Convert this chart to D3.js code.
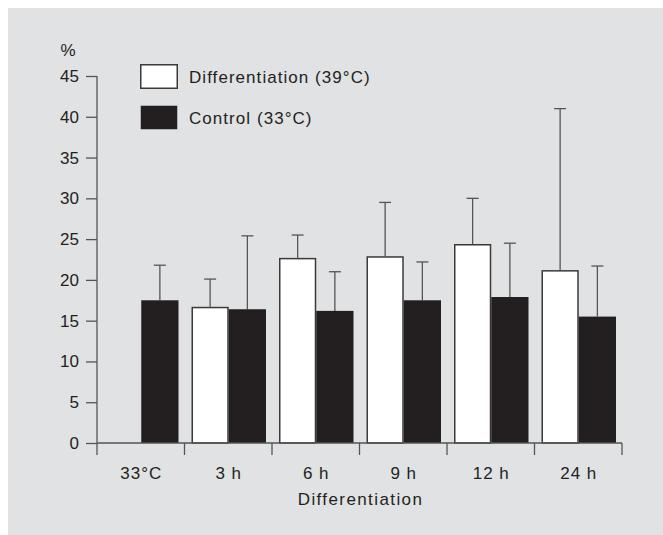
<!DOCTYPE html>
<html lang="en">
<head>
    <meta charset="UTF-8">
    <title>Differentiation bars</title>
    <style>
        body { margin: 0; background: #fff; }
        text { font-family: "Liberation Sans", Arial, sans-serif; fill: #231f20; }
    </style>
    <script src="https://d3js.org/d3.v7.min.js"></script>
</head>
<body>
    <svg width="663" height="535"></svg>
    <script>
        // values
        const categories = ["33\u00b0C", "3 h", "6 h", "9 h", "12 h", "24 h"];
        const diffMean = [null, 16.7, 22.7, 22.9, 24.4, 21.2];
        const diffSD = [null, 3.4, 2.8, 6.6, 5.6, 19.8];
        const ctrlMean = [17.5, 16.4, 16.2, 17.5, 17.9, 15.5];
        const ctrlSD = [4.3, 9.0, 4.8, 4.7, 6.6, 6.2];
        const yTicks = [0, 5, 10, 15, 20, 25, 30, 35, 40, 45];
        const seriesNames = ["Differentiation (39\u00b0C)", "Control (33\u00b0C)"];

        const svg = d3.select("svg");
        svg.append("rect")
            .attr("x", 8).attr("y", 8)
            .attr("width", 655).attr("height", 527)
            .attr("fill", "#e1e2e4");

        const plotL = 97, plotR = 622, plotT = 76, plotB = 443;

        const x = d3.scaleBand().domain(categories).range([plotL, plotR]);
        const inner = d3.scaleBand().domain(["diff", "ctrl"])
            .range([7, x.bandwidth() - 6]);
        const y = d3.scaleLinear().domain([0, 45]).range([plotB, plotT]);

        const rows = categories.map((c, i) => [
            { cat: c, key: "diff", v: diffMean[i], sd: diffSD[i] },
            { cat: c, key: "ctrl", v: ctrlMean[i], sd: ctrlSD[i] }
        ]).flat().filter(d => d.v != null);

        // error bars first, bars cover their base
        const eb = svg.append("g").attr("stroke", "#555").attr("stroke-width", 1.3);
        rows.forEach(d => {
            const cx = x(d.cat) + inner(d.key) + inner.bandwidth() / 2;
            eb.append("line")
                .attr("x1", cx).attr("x2", cx)
                .attr("y1", y(d.v)).attr("y2", y(d.v + d.sd));
            eb.append("line")
                .attr("x1", cx - 6).attr("x2", cx + 6)
                .attr("y1", y(d.v + d.sd)).attr("y2", y(d.v + d.sd));
        });

        svg.append("g").selectAll("rect")
            .data(rows)
            .enter()
            .append("rect")
            .attr("x", d => x(d.cat) + inner(d.key) + (d.key == "diff" ? 0.75 : 0))
            .attr("y", d => y(d.v) + (d.key == "diff" ? 0.75 : 0))
            .attr("width", d => inner.bandwidth() - (d.key == "diff" ? 1.5 : 0))
            .attr("height", d => y(0) - y(d.v) - (d.key == "diff" ? 0.75 : 0))
            .attr("fill", d => d.key == "diff" ? "#fff" : "#231f20")
            .attr("stroke", d => d.key == "diff" ? "#3a3a3a" : "none")
            .attr("stroke-width", 1.5);

        // y axis
        const yAxis = svg.append("g")
            .attr("transform", `translate(${plotL},0)`)
            .call(d3.axisLeft(y).tickValues(yTicks).tickSize(11).tickPadding(7));
        yAxis.select(".domain").attr("stroke", "#555").attr("stroke-width", 1.3)
            .attr("d", `M0,${plotT}V${plotB}`);
        yAxis.selectAll(".tick line").attr("stroke", "#555").attr("stroke-width", 1.3);
        yAxis.selectAll(".tick text").attr("font-size", 17)
            .style("font-family", "'Liberation Sans', Arial, sans-serif").attr("fill", "#231f20");

        // x axis: ticks at band edges
        const xAxis = svg.append("g").attr("transform", `translate(0,${plotB})`);
        xAxis.append("line")
            .attr("x1", plotL).attr("x2", plotR)
            .attr("stroke", "#555").attr("stroke-width", 1.3);
        const edges = categories.map(c => x(c)).concat([plotR]);
        xAxis.selectAll(".edge").data(edges).enter().append("line")
            .attr("x1", d => d).attr("x2", d => d)
            .attr("y1", 0).attr("y2", 12)
            .attr("stroke", "#555").attr("stroke-width", 1.3);
        xAxis.selectAll(".lab").data(categories).enter().append("text")
            .attr("x", d => x(d) + x.bandwidth() / 2 + 0.5)
            .attr("y", 36)
            .attr("text-anchor", "middle")
            .attr("font-size", 17)
            .attr("letter-spacing", 1)
            .text(d => d);

        svg.append("text")
            .attr("x", (plotL + plotR) / 2 + 1).attr("y", 505)
            .attr("text-anchor", "middle").attr("font-size", 17)
            .attr("letter-spacing", 1.4)
            .text("Differentiation");

        svg.append("text")
            .attr("x", 68).attr("y", 56)
            .attr("text-anchor", "middle").attr("font-size", 17)
            .text("%");

        // legend
        const legend = svg.append("g");
        seriesNames.forEach((name, i) => {
            const ly = 64 + i * 41;
            legend.append("rect")
                .attr("x", 140.75).attr("y", ly + 0.75)
                .attr("width", 36.5).attr("height", 23.5)
                .attr("fill", i == 0 ? "#fff" : "#231f20")
                .attr("stroke", i == 0 ? "#3a3a3a" : "none")
                .attr("stroke-width", 1.5);
            legend.append("text")
                .attr("x", 189).attr("y", ly + 18.5)
                .attr("font-size", 17)
                .attr("letter-spacing", 1.05)
                .text(name);
        });
    </script>
</body>
</html>
